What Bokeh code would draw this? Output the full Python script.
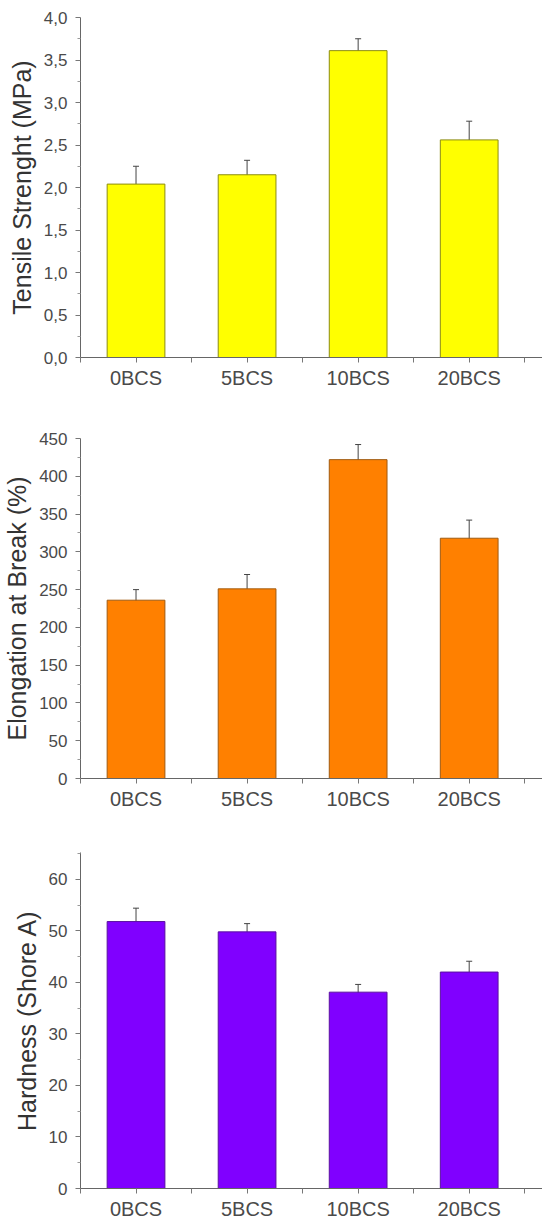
from bokeh.plotting import figure
from bokeh.layouts import column
from bokeh.models import ColumnDataSource, Whisker, TeeHead, FixedTicker, Range1d
from bokeh.embed import file_html
from bokeh.resources import INLINE

categories = ["0BCS", "5BCS", "10BCS", "20BCS"]
tensile = [2.04, 2.15, 3.61, 2.56]
tensile_err = [0.21, 0.17, 0.14, 0.22]
elongation = [236, 251, 422, 318]
elongation_err = [14, 19, 20, 24]
hardness = [51.8, 49.8, 38.1, 42.0]
hardness_err = [2.6, 1.6, 1.5, 2.1]

tensile_ticks = [0.0, 0.5, 1.0, 1.5, 2.0, 2.5, 3.0, 3.5, 4.0]
tensile_tick_labels = ["0,0", "0,5", "1,0", "1,5", "2,0", "2,5", "3,0", "3,5", "4,0"]
elong_ticks = [0, 50, 100, 150, 200, 250, 300, 350, 400, 450]
hard_ticks = [0, 10, 20, 30, 40, 50, 60]

FONT = "Liberation Sans"


def make_panel(values, errs, ylabel, ymax, ticks, minor, fill, edge, height, top, bottom, labels=None):
    x = [i + 1 for i in range(len(categories))]
    src = ColumnDataSource(dict(x=x, top=values,
                                upper=[v + e for v, e in zip(values, errs)],
                                lower=[v - e for v, e in zip(values, errs)]))
    p = figure(width=542, height=height, output_backend="svg", toolbar_location=None,
               x_range=Range1d(0.5, 4.66), y_range=Range1d(0, ymax),
               min_border_left=80, min_border_right=0, min_border_top=top,
               min_border_bottom=bottom)
    p.vbar(x="x", top="top", width=0.52, source=src, fill_color=fill, line_color=edge, line_width=1)
    w = Whisker(base="x", upper="upper", lower="lower", source=src, line_color="#444444", line_width=1,
                upper_head=TeeHead(size=6, line_color="#444444", line_width=1),
                lower_head=TeeHead(size=6, line_color="#444444", line_width=1))
    p.add_layout(w)
    p.outline_line_color = None
    p.xgrid.visible = False
    p.ygrid.visible = False
    p.background_fill_color = "white"
    p.border_fill_color = "white"

    p.xaxis.ticker = FixedTicker(ticks=x, minor_ticks=[xi + 0.5 for xi in x] + [0.5])
    p.xaxis.major_label_overrides = {xi: c for xi, c in zip(x, categories)}
    p.xaxis.major_label_text_font = FONT
    p.xaxis.major_label_text_font_size = "20px"
    p.xaxis.major_label_text_color = "#4a4a4a"
    p.xaxis.axis_line_color = "#666666"
    p.xaxis.major_tick_line_color = "#777777"
    p.xaxis.minor_tick_line_color = "#777777"
    p.xaxis.major_tick_out = 5
    p.xaxis.major_tick_in = 0
    p.xaxis.minor_tick_out = 5
    p.xaxis.minor_tick_in = 0
    p.xaxis.major_label_standoff = 4

    p.yaxis.ticker = FixedTicker(ticks=ticks, minor_ticks=minor)
    if labels is not None:
        p.yaxis.major_label_overrides = {t: l for t, l in zip(ticks, labels)}
    p.yaxis.axis_label = ylabel
    p.yaxis.axis_label_text_font = FONT
    p.yaxis.axis_label_text_font_size = "25px"
    p.yaxis.axis_label_text_font_style = "normal"
    p.yaxis.axis_label_text_color = "#333333"
    p.yaxis.axis_label_standoff = 5
    p.yaxis.major_label_text_font = FONT
    p.yaxis.major_label_text_font_size = "17px"
    p.yaxis.major_label_text_color = "#4a4a4a"
    p.yaxis.axis_line_color = "#666666"
    p.yaxis.major_tick_line_color = "#777777"
    p.yaxis.minor_tick_line_color = "#999999"
    p.yaxis.major_tick_out = 5
    p.yaxis.major_tick_in = 0
    p.yaxis.minor_tick_out = 3
    p.yaxis.minor_tick_in = 0
    p.yaxis.major_label_standoff = 8
    return p


p1 = make_panel(tensile, tensile_err, "Tensile Strenght (MPa)", 4.0, tensile_ticks,
                [t + 0.25 for t in tensile_ticks[:-1]], "#FFFF00", "#8c8c10", 403, 17, 46,
                tensile_tick_labels)
p2 = make_panel(elongation, elongation_err, "Elongation at Break (%)", 450, elong_ticks,
                [t + 25 for t in elong_ticks[:-1]], "#FF8000", "#a05a10", 415, 35, 40)
p3 = make_panel(hardness, hardness_err, "Hardness (Shore A)", 65.2, hard_ticks,
                [t + 5 for t in hard_ticks], "#8000FF", "#5a10a0", 404, 34, 30)

layout = column(p1, p2, p3, spacing=0)
open("out.html", "w").write(file_html(layout, INLINE))
